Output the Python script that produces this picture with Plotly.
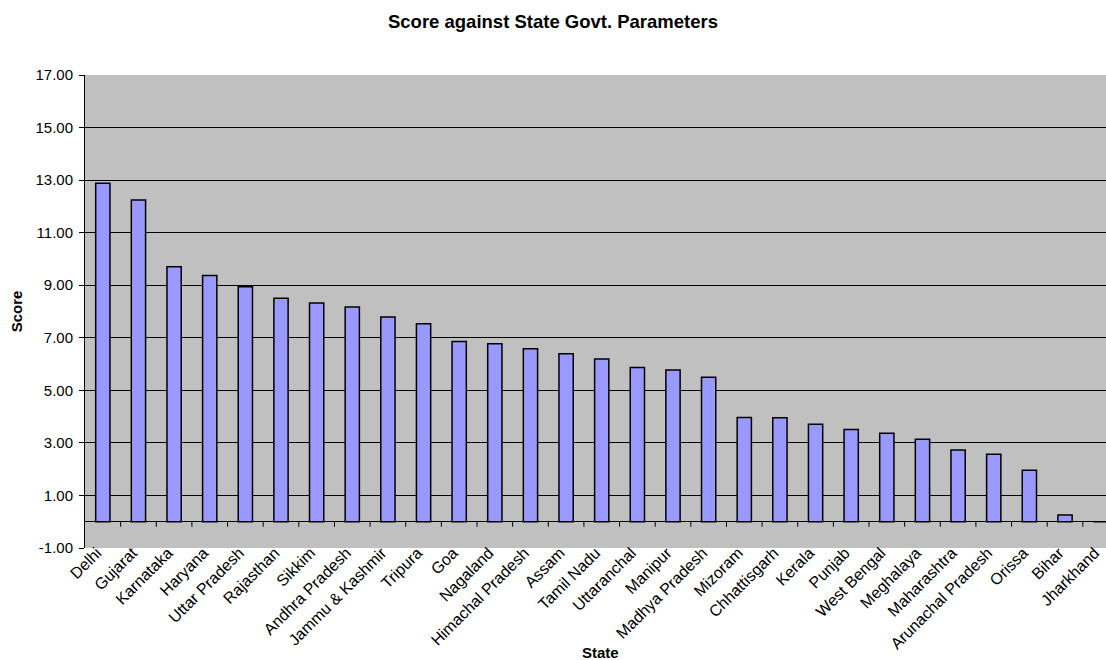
import plotly.graph_objects as go

# States ranked by score against state government parameters
states = [
    "Delhi", "Gujarat", "Karnataka", "Haryana", "Uttar Pradesh", "Rajasthan",
    "Sikkim", "Andhra Pradesh", "Jammu & Kashmir", "Tripura", "Goa", "Nagaland",
    "Himachal Pradesh", "Assam", "Tamil Nadu", "Uttaranchal", "Manipur",
    "Madhya Pradesh", "Mizoram", "Chhattisgarh", "Kerala", "Punjab",
    "West Bengal", "Meghalaya", "Maharashtra", "Arunachal Pradesh", "Orissa",
    "Bihar", "Jharkhand",
]
scores = [
    12.88, 12.24, 9.70, 9.37, 8.94, 8.50,
    8.32, 8.17, 7.79, 7.53, 6.86, 6.77,
    6.58, 6.39, 6.19, 5.87, 5.77,
    5.50, 3.97, 3.96, 3.71, 3.51,
    3.37, 3.14, 2.73, 2.57, 1.96,
    0.26, 0.00,
]
y_ticks = [-1, 1, 3, 5, 7, 9, 11, 13, 15, 17]
y_tick_text = [f"{v:.2f}" for v in y_ticks]  # plain hyphen for negatives

FONT = "Liberation Sans, Arial, sans-serif"

fig = go.Figure(
    go.Bar(
        x=states,
        y=scores,
        width=0.4,
        marker=dict(color="#9999FF", line=dict(color="black", width=1.5)),
    )
)

# category tick marks hanging below the zero line at each boundary
tick_shapes = [
    dict(
        type="line", xref="x", yref="y",
        x0=k - 0.5, x1=k - 0.5,
        ysizemode="pixel", yanchor=0, y0=0, y1=-5,
        line=dict(color="black", width=1),
    )
    for k in range(1, len(states) + 1)
]

fig.update_layout(
    width=1106,
    height=660,
    margin=dict(l=85, r=0, t=75, b=112),
    paper_bgcolor="white",
    plot_bgcolor="#C0C0C0",
    font=dict(family=FONT, size=15, color="black"),
    showlegend=False,
    bargap=0.6,
    title=dict(
        text="<b>Score against State Govt. Parameters</b>",
        x=0.5, xref="container", xanchor="center",
        y=1 - 22 / 660, yref="container", yanchor="middle",
        font=dict(family=FONT, size=18.5, color="black"),
    ),
    shapes=tick_shapes,
    annotations=[
        dict(
            text="<b>State</b>", xref="paper", yref="paper",
            x=0.505, y=-(652 - 548) / (548 - 75),
            xanchor="center", yanchor="middle", showarrow=False,
            font=dict(family=FONT, size=15, color="black"),
        )
    ],
)

fig.update_xaxes(
    type="category",
    range=[-0.5, 28.15],
    anchor="free",
    position=0.018,
    tickangle=-45,
    ticks="",
    ticklabelshift=-6,
    showline=False,
    showgrid=False,
    tickfont=dict(family=FONT, size=16, color="black"),
)

fig.update_yaxes(
    range=[-1, 17],
    tickvals=y_ticks,
    ticktext=y_tick_text,
    ticks="outside",
    ticklen=5,
    tickcolor="black",
    ticklabelstandoff=3,
    showline=True,
    linecolor="black",
    linewidth=1,
    showgrid=True,
    gridcolor="black",
    gridwidth=1,
    zeroline=True,
    zerolinecolor="black",
    zerolinewidth=1,
    tickfont=dict(family=FONT, size=15, color="black"),
    title=dict(text="<b>Score</b>", standoff=9,
               font=dict(family=FONT, size=15, color="black")),
)

fig.write_html("out.html")
